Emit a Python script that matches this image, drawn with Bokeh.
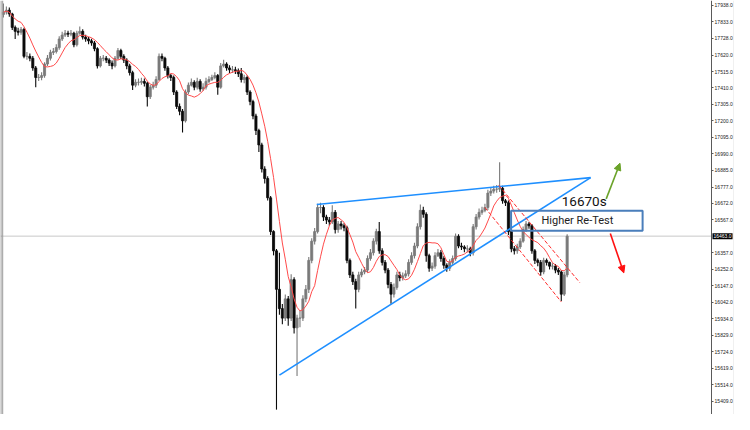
import numpy as np
import pandas as pd
from bokeh.plotting import figure
from bokeh.models import (Range1d, FixedTicker, PrintfTickFormatter, Span, Label,
                          Arrow, NormalHead, BoxAnnotation, ColumnDataSource)
from bokeh.embed import file_html
from bokeh.resources import INLINE

# ---------------- data ----------------
first_open = 17880
closes = [
    17895, 17907, 17883, 17797, 17772, 17766, 17784, 17612, 17612, 17600,
    17538, 17477, 17477, 17489, 17563, 17600, 17637, 17643, 17668, 17723,
    17748, 17760, 17754, 17760, 17686, 17760, 17772, 17735, 17723, 17711,
    17698, 17661, 17551, 17600, 17600, 17588, 17569, 17551, 17600, 17649,
    17612, 17588, 17551, 17508, 17428, 17446, 17446, 17452, 17440, 17354,
    17415, 17428, 17464, 17612, 17600, 17538, 17489, 17477, 17384, 17292,
    17261, 17200, 17384, 17428, 17446, 17415, 17452, 17403, 17415, 17452,
    17464, 17477, 17489, 17415, 17551, 17563, 17538, 17526, 17526, 17520,
    17501, 17464, 17477, 17384, 17323, 17231, 17138, 17046, 16892, 16831,
    16708, 16492, 16369, 16123, 16000, 15939, 16062, 15939, 16185, 15877,
    15939, 15939, 16062, 16123, 16308, 16431, 16492, 16646, 16646, 16585,
    16566, 16554, 16615, 16505, 16541, 16529, 16517, 16308, 16215, 16172,
    16123, 16215, 16234, 16246, 16320, 16357, 16431, 16492, 16369, 16295,
    16246, 16154, 16092, 16135, 16215, 16197, 16209, 16222, 16295, 16338,
    16400, 16523, 16628, 16603, 16338, 16258, 16271, 16338, 16357, 16320,
    16277, 16258, 16295, 16320, 16462, 16400, 16394, 16382, 16382, 16357,
    16523, 16585, 16615, 16628, 16646, 16738, 16751, 16763, 16763, 16769,
    16689, 16677, 16492, 16382, 16369, 16394, 16431, 16505, 16541, 16529,
    16369, 16308, 16295, 16234, 16308, 16295, 16271, 16271, 16246, 16234,
    16092, 16215, 16463,
]
highs = [
    17950, 17930, 17925, 17890, 17810, 17795, 17800, 17795, 17640, 17630,
    17615, 17550, 17500, 17510, 17575, 17620, 17655, 17665, 17690, 17740,
    17770, 17780, 17775, 17780, 17770, 17775, 17803, 17785, 17750, 17735,
    17725, 17710, 17670, 17615, 17620, 17615, 17600, 17585, 17615, 17665,
    17660, 17625, 17600, 17565, 17520, 17465, 17470, 17475, 17470, 17450,
    17430, 17450, 17485, 17631, 17630, 17610, 17550, 17500, 17490, 17395,
    17310, 17275, 17400, 17445, 17470, 17460, 17475, 17465, 17440, 17475,
    17485, 17495, 17510, 17500, 17570, 17590, 17575, 17555, 17550, 17545,
    17535, 17538, 17495, 17490, 17395, 17335, 17245, 17150, 17060, 16910,
    16845, 16720, 16500, 16380, 16357, 16030, 16090, 16080, 16220, 16200,
    15960, 15990, 16085, 16150, 16330, 16450, 16515, 16670, 16677, 16660,
    16600, 16585, 16660, 16630, 16560, 16560, 16545, 16530, 16320, 16235,
    16190, 16235, 16255, 16265, 16340, 16380, 16450, 16510, 16554, 16385,
    16310, 16260, 16170, 16160, 16235, 16235, 16230, 16245, 16315, 16360,
    16420, 16545, 16665, 16650, 16615, 16350, 16295, 16360, 16380, 16375,
    16335, 16290, 16315, 16340, 16480, 16475, 16420, 16405, 16405, 16395,
    16540, 16605, 16640, 16650, 16670, 16760, 16775, 16785, 16790, 16935,
    16785, 16700, 16690, 16505, 16400, 16415, 16450, 16525, 16560, 16555,
    16540, 16380, 16320, 16310, 16325, 16320, 16300, 16290, 16285, 16260,
    16245, 16235, 16475,
]
lows = [
    17860, 17880, 17865, 17780, 17723, 17745, 17750, 17600, 17590, 17580,
    17520, 17415, 17455, 17460, 17475, 17550, 17585, 17620, 17630, 17655,
    17710, 17735, 17735, 17740, 17670, 17675, 17750, 17720, 17705, 17690,
    17680, 17645, 17535, 17540, 17580, 17570, 17550, 17530, 17540, 17590,
    17595, 17570, 17530, 17490, 17397, 17415, 17425, 17430, 17420, 17292,
    17340, 17400, 17410, 17455, 17580, 17520, 17470, 17455, 17365, 17275,
    17235, 17126, 17190, 17370, 17420, 17395, 17400, 17385, 17390, 17400,
    17440, 17455, 17465, 17367, 17405, 17540, 17520, 17505, 17505, 17500,
    17480, 17445, 17440, 17365, 17300, 17210, 17110, 17000, 16870, 16800,
    16690, 16470, 16340, 15354, 15960, 15900, 15920, 15890, 15920, 15840,
    15569, 15880, 15920, 16040, 16100, 16290, 16410, 16480, 16610, 16560,
    16540, 16530, 16540, 16480, 16485, 16505, 16495, 16290, 16195, 16150,
    16000, 16105, 16200, 16220, 16230, 16305, 16340, 16410, 16350, 16275,
    16225, 16130, 16031, 16070, 16120, 16175, 16180, 16195, 16205, 16280,
    16320, 16385, 16505, 16580, 16300, 16235, 16240, 16255, 16330, 16300,
    16255, 16235, 16240, 16280, 16305, 16385, 16375, 16360, 16360, 16335,
    16340, 16505, 16570, 16600, 16615, 16630, 16720, 16735, 16740, 16745,
    16670, 16655, 16470, 16360, 16345, 16350, 16380, 16420, 16490, 16510,
    16350, 16285, 16270, 16210, 16220, 16275, 16250, 16250, 16225, 16215,
    16049, 16080, 16200,
]
ma_period = 8
current_price = 16463
price_ticks = [17938, 17833, 17728, 17620, 17515, 17410, 17305, 17200, 17095,
               16990, 16885, 16777, 16672, 16567, 16357, 16252, 16147, 16042,
               15934, 15829, 15724, 15619, 15514, 15409]

# annotations (bar index, price)
wedge_upper_x = [106.7, 200.0]
wedge_upper_y = [16665, 16837]
wedge_lower_x = [94.0, 200.0]
wedge_lower_y = [15575, 16837]
channel_upper_x = [168.7, 196.3]
channel_upper_y = [16788, 16166]
channel_lower_x = [164.0, 190.0]
channel_lower_y = [16646, 16043]
up_arrow = (205.3, 16701, 210.0, 16929)
down_arrow = (206.7, 16480, 211.3, 16228)
retest_box = (172.9, 217.7, 16498, 16626)   # left, right, bottom, top
retest_text = ("Higher Re-Test", 195.5, 16562)
level_text = ("16670s", 197.8, 16690)

# ---------------- build ----------------
opens = [first_open] + closes[:-1]
df = pd.DataFrame(dict(i=np.arange(len(closes)), open=opens, high=highs,
                       low=lows, close=closes))
df["top"] = df[["open", "close"]].max(axis=1)
df["bottom"] = df[["open", "close"]].min(axis=1)
df["color"] = np.where(df["close"] >= df["open"], "#7a7a7a", "#0a0a0a")
df["ma"] = df["close"].rolling(ma_period, min_periods=1).mean()
src = ColumnDataSource(df)

X_START, X_END = -1, 249      # visible bar-index window
AXIS_AT = 241.2               # bar index where the price scale sits

p = figure(width=734, height=414, x_range=Range1d(X_START, X_END),
           y_range=Range1d(15323, 17969), output_backend="svg",
           toolbar_location=None, x_axis_location=None, y_axis_location="right",
           min_border_left=0, min_border_top=0, min_border_bottom=0,
           min_border_right=0)
p.grid.visible = False
p.outline_line_color = None
p.background_fill_color = "white"
p.border_fill_color = "white"

ax = p.yaxis[0]
ax.fixed_location = AXIS_AT
ax.ticker = FixedTicker(ticks=price_ticks)
ax.formatter = PrintfTickFormatter(format="%.1f")
ax.axis_line_color = "#5a5a5a"
ax.major_tick_line_color = "#5a5a5a"
ax.major_tick_out = 2
ax.major_tick_in = 0
ax.minor_tick_line_color = None
ax.major_label_text_font = "Liberation Sans"
ax.major_label_text_font_size = "5px"
ax.major_label_text_color = "#222222"
ax.major_label_standoff = 1

# left border double line and right edge line
p.add_layout(Span(location=-0.85, dimension="height", line_color="#7a7a7a", line_width=1))
p.add_layout(Span(location=-0.25, dimension="height", line_color="#9a9a9a", line_width=1))
p.add_layout(Span(location=X_END - 0.15, dimension="height", line_color="#dddddd", line_width=1))

# current price line (up to the price scale)
p.segment(x0=[X_START], y0=[current_price], x1=[AXIS_AT], y1=[current_price],
          line_color="#c8c8c8", line_width=1)

# candles
p.segment(x0="i", y0="high", x1="i", y1="low", line_color="color",
          line_width=1.1, source=src)
p.vbar(x="i", width=0.72, top="top", bottom="bottom", fill_color="color",
       line_color="color", line_width=0.8, source=src)

# moving average
p.line(x="i", y="ma", line_color="#ff4a4a", line_width=1, source=src)

# wedge lines
p.line(wedge_upper_x, wedge_upper_y, line_color="#1e8fff", line_width=1.6)
p.line(wedge_lower_x, wedge_lower_y, line_color="#1e8fff", line_width=1.6)

# channel
p.line(channel_upper_x, channel_upper_y, line_color="#ff2a2a", line_width=1,
       line_dash="4 2")
p.line(channel_lower_x, channel_lower_y, line_color="#ff2a2a", line_width=1,
       line_dash="4 2")

# arrows
g = "#6ba32a"
p.add_layout(Arrow(end=NormalHead(size=7, fill_color=g, line_color=g),
                   x_start=up_arrow[0], y_start=up_arrow[1],
                   x_end=up_arrow[2], y_end=up_arrow[3],
                   line_color=g, line_width=1.6))
r = "#ff1010"
p.add_layout(Arrow(end=NormalHead(size=7, fill_color=r, line_color=r),
                   x_start=down_arrow[0], y_start=down_arrow[1],
                   x_end=down_arrow[2], y_end=down_arrow[3],
                   line_color=r, line_width=1.6))

# box + texts
p.add_layout(BoxAnnotation(left=retest_box[0], right=retest_box[1],
                           bottom=retest_box[2], top=retest_box[3],
                           fill_alpha=0, line_color="#4a7ebb", line_alpha=1,
                           line_width=2))
p.add_layout(Label(x=retest_text[1], y=retest_text[2], text=retest_text[0],
                   text_align="center", text_baseline="middle",
                   text_font="Roboto", text_font_size="11px",
                   text_color="#222222"))
p.add_layout(Label(x=level_text[1], y=level_text[2], text=level_text[0],
                   text_align="center", text_baseline="middle",
                   text_font="Roboto", text_font_size="13.5px",
                   text_color="#111111"))

# current price tag on the price scale
p.add_layout(Label(x=AXIS_AT + 0.3, y=current_price,
                   text="%.1f" % current_price, text_align="left",
                   text_baseline="middle", text_font="Liberation Sans",
                   text_font_size="5px", text_color="white",
                   background_fill_color="black", background_fill_alpha=1,
                   padding=1))

open("out.html", "w").write(file_html(p, INLINE))
